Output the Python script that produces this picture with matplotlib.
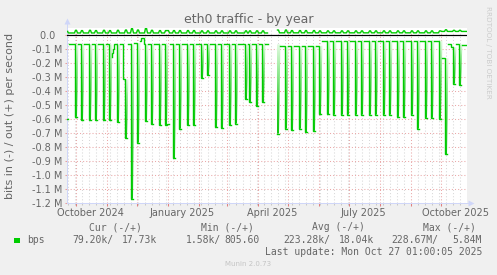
import numpy as np
import matplotlib
matplotlib.use("Agg")
import matplotlib.pyplot as plt
from matplotlib.colors import LinearSegmentedColormap
from matplotlib.patches import Polygon, Rectangle
from matplotlib.transforms import blended_transform_factory

W, H = 497, 275
start_date = np.datetime64("2024-09-22")
n_days = 400

# ---------------- data (M bits per second) ----------------
# inbound (drawn negative): piecewise baseline, value holds from the given day
base_from = [0, 44, 45, 46, 47, 56, 58, 65, 71, 74, 77, 201, 210, 252, 374, 380, 384, 388, 394]
base_value = [-0.07, -0.16, -0.13, -0.10, -0.07, -0.32, -0.07, -0.06, -0.045, -0.025, -0.07,
              np.nan, -0.08, -0.043, -0.17, -0.07, -0.09, -0.07, -0.075]

# weekly inbound spikes: day of drop and depth
spike_day = [-1, 8, 14, 22, 28, 36, 42, 50, 58, 64,
             70, 78, 84, 92, 98, 100, 106, 112, 120, 126,
             134, 140, 148, 154, 162, 168, 178, 182, 189, 195,
             210, 218, 224, 232, 238, 246, 252, 260, 266, 274,
             280, 288, 294, 302, 308, 316, 322, 330, 336, 344,
             350, 358, 364, 372, 378, 386, 392]
spike_depth = [-0.60, -0.586, -0.61, -0.61, -0.61, -0.61, -0.61, -0.624, -0.74, -1.17,
               -0.77, -0.617, -0.64, -0.648, -0.648, -0.64, -0.88, -0.67, -0.648, -0.648,
               -0.31, -0.29, -0.662, -0.667, -0.648, -0.634, -0.46, -0.48, -0.51, -0.48,
               -0.705, -0.67, -0.68, -0.67, -0.695, -0.686, -0.567, -0.567, -0.57, -0.57,
               -0.57, -0.57, -0.57, -0.57, -0.57, -0.57, -0.57, -0.586, -0.586, -0.57,
               -0.67, -0.593, -0.593, -0.60, -0.853, -0.35, -0.36]

# outbound (positive): baseline segments and small weekly bumps
out_from = [0, 201, 210, 374]
out_level = [0.011, np.nan, 0.012, 0.022]
out_peak = [0.022, 0.030, 0.028, 0.030, 0.028, 0.030, 0.028, 0.030, 0.032, 0.042,
            0.032, 0.045, 0.030, 0.028, 0.028, 0.028, 0.028, 0.028, 0.028, 0.028,
            0.026, 0.026, 0.026, 0.026, 0.026, 0.026, 0.026, 0.026, 0.026, 0.026,
            0.032, 0.032, 0.028, 0.028, 0.028, 0.028, 0.026, 0.026, 0.026, 0.026,
            0.026, 0.026, 0.026, 0.026, 0.026, 0.026, 0.026, 0.026, 0.026, 0.026,
            0.026, 0.026, 0.026, 0.026, 0.034, 0.030, 0.030]

month_starts = np.arange("2024-10", "2025-11", dtype="datetime64[M]").astype("datetime64[D]")
quarter_labels = ["October 2024", "January 2025", "April 2025", "July 2025", "October 2025"]
quarter_dates = np.array(["2024-10-15", "2025-01-15", "2025-04-15", "2025-07-15", "2025-10-15"],
                         dtype="datetime64[D]")
y_ticks = [0.0, -0.1, -0.2, -0.3, -0.4, -0.5, -0.6, -0.7, -0.8, -0.9, -1.0, -1.1, -1.2]

legend_heads = ["Cur (-/+)", "Min (-/+)", "Avg (-/+)", "Max (-/+)"]
legend_vals = [("79.20k/", "17.73k"), ("1.58k/", "805.60"), ("223.28k/", "18.04k"), ("228.67M/", "5.84M")]

# ---------------- build series ----------------
inn = np.full(n_days, np.nan)
for d0, v in zip(base_from, base_value):
    inn[d0:] = v
spike_mask = np.zeros(n_days, bool)
for d, v in zip(spike_day, spike_depth):
    for k in (d, d + 1):
        if 0 <= k < n_days:
            inn[k] = v
            spike_mask[k] = True

out = np.full(n_days, np.nan)
for d0, v in zip(out_from, out_level):
    out[d0:] = v
for d, v in zip(spike_day, out_peak):
    for k in (d, d + 1):
        if 0 <= k < n_days and not np.isnan(out[k]):
            out[k] = v

# step polyline of the inbound series; the rising edge after a spike is left
# to the gradient column (as rrdtool renders it at this resolution)
RISE = 1.4
xs, ys = [], []
for i in range(n_days):
    v = inn[i]
    if i > 0 and spike_mask[i - 1] and not spike_mask[i]:
        xs.append(np.nan); ys.append(np.nan)
        xs += [i + RISE, i + 1]; ys += [v, v]
    else:
        xs += [i, i + 1]; ys += [v, v]

# ---------------- figure ----------------
GREEN = "#00cc00"
FONT = "#666666"
AXIS = "#cfd6f8"
px = 0.72  # points per pixel

fig = plt.figure(figsize=(W / 100, H / 100), dpi=100, facecolor="#f0f0f0")
ax = fig.add_axes([67 / W, 1 - 203 / H, 400 / W, 175.5 / H])
ax.set_facecolor("white")

ax.plot(xs, ys, color=GREEN, lw=1.0, zorder=4, solid_joinstyle="miter")

grad = np.linspace(0, 1, 64).reshape(-1, 1)
cmap = LinearSegmentedColormap.from_list("g", ["#e0fae0", "#8ee88e", "#38d038", "#10c810"])
for d, v in zip(spike_day, spike_depth):
    if d < 0:
        continue
    b = inn[d - 1] if d >= 1 and not np.isnan(inn[d - 1]) else -0.07
    right = d + 2 + RISE
    poly = Polygon([(d, b), (d, v), (d + 2, v), (right, b)], closed=True,
                   facecolor="none", edgecolor="none", transform=ax.transData)
    ax.add_patch(poly)
    im = ax.imshow(grad, extent=(d, right, v, b), origin="upper", cmap=cmap,
                   aspect="auto", interpolation="bilinear", zorder=3)
    im.set_clip_path(poly)

ax.axhline(0, color="black", lw=1.0 * px * 1.2, zorder=5)
ax.plot(np.arange(n_days) + 0.5, out, color=GREEN, lw=1.0, zorder=6)

ax.set_xlim(0, n_days)
ax.set_ylim(-1.2, 0.05)

mdays = (month_starts - start_date).astype(int)
week_days = np.arange(1, n_days, 7)
ax.set_xticks(mdays)
ax.set_xticks(week_days, minor=True)
ax.set_xticklabels([])
ax.set_yticks(y_ticks)
ax.set_yticklabels(["0.0  "] + [f"{t:.1f} M" for t in y_ticks[1:]], fontsize=7, color=FONT)

dot = (0, (1, 2))
ax.grid(which="major", axis="x", color="#eaa8a8", ls=dot, lw=0.75, zorder=0)
ax.grid(which="minor", axis="x", color="#d8d8d8", ls=dot, lw=0.75, zorder=0)
ax.grid(which="major", axis="y", color="#eaa8a8", ls=dot, lw=0.75, zorder=0)
ax.set_axisbelow(True)

ax.tick_params(axis="x", which="major", color="#e08080", length=3 * px, width=0.75, direction="out")
ax.tick_params(axis="x", which="minor", color="#c8c8c8", length=2 * px, width=0.75, direction="out")
ax.tick_params(axis="y", which="major", color="#e8a0a0", length=2 * px, width=0.75, pad=3 * px)

for s in ("top", "right"):
    ax.spines[s].set_visible(False)
for s in ("left", "bottom"):
    ax.spines[s].set_color(AXIS)
    ax.spines[s].set_linewidth(1.0 * px)

# axis arrows
ax.plot([0, 0], [0.05, 0.098], color=AXIS, lw=px, clip_on=False, zorder=7)
ax.plot([0], [0.098], marker="^", ms=4, color=AXIS, clip_on=False, zorder=7, mec="none")
ax.plot([n_days, n_days + 4], [-1.2, -1.2], color=AXIS, lw=px, clip_on=False, zorder=7)
ax.plot([n_days + 4], [-1.2], marker=">", ms=4, color=AXIS, clip_on=False, zorder=7, mec="none")

btr = blended_transform_factory(ax.transData, ax.transAxes)
for lab, dt in zip(quarter_labels, quarter_dates):
    ax.annotate(lab, xy=(float((dt - start_date).astype(int)), 0), xycoords=btr,
                xytext=(0, -10 * px), textcoords="offset points",
                ha="center", va="center", fontsize=7, color=FONT)

# titles
fig.text(248.5 / W, 1 - 19 / H, "eth0 traffic - by year", ha="center", va="center",
         fontsize=9, color=FONT)
fig.text(10 / W, 1 - 116 / H, "bits in (-) / out (+) per second", rotation=90,
         ha="center", va="center", fontsize=8, color=FONT)
fig.text(488 / W, 1 - 52.5 / H, "RRDTOOL / TOBI OETIKER", rotation=270,
         ha="center", va="center", fontsize=5.2, color="#cccccc")

# legend
mono = dict(family="DejaVu Sans Mono", fontsize=7, color=FONT, va="center")
for lab, x in zip(legend_heads, [89, 201, 312, 423]):
    fig.text(x / W, 1 - 227.5 / H, lab, ha="left", **mono)
fig.patches.append(Rectangle((14 / W, 1 - 243 / H), 6 / W, 5.5 / H, transform=fig.transFigure,
                             facecolor=GREEN, edgecolor="none"))
fig.text(27 / W, 1 - 240 / H, "bps", ha="left", **mono)
for (a, b), xl, xr in zip(legend_vals, [72, 186, 283, 391], [157, 260, 374, 482]):
    fig.text(xl / W, 1 - 240 / H, a, ha="left", **mono)
    fig.text(xr / W, 1 - 240 / H, b, ha="right", **mono)
fig.text(482 / W, 1 - 252 / H, "Last update: Mon Oct 27 01:00:05 2025", ha="right", **mono)
fig.text(248.5 / W, 1 - 264 / H, "Munin 2.0.73", ha="center", va="center",
         fontsize=5, color="#c4c4c4")

fig.savefig("out.png", dpi=100, facecolor=fig.get_facecolor())
